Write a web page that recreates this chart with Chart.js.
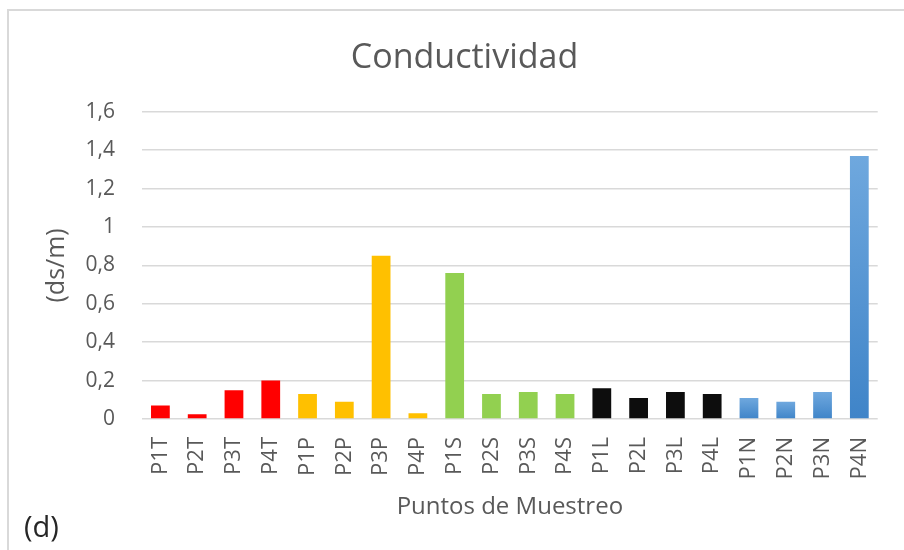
<!DOCTYPE html>
<html>
<head>
<meta charset="utf-8">
<script src="https://cdn.jsdelivr.net/npm/chart.js@4/dist/chart.umd.min.js"></script>
<style>
  html, body { margin: 0; padding: 0; background: #ffffff; }
  #wrap { width: 904px; height: 550px; position: relative; }
</style>
</head>
<body>
<div id="wrap"><canvas id="c" width="904" height="550"></canvas></div>
<script>
// ---- data ----
const categories = ['P1T','P2T','P3T','P4T','P1P','P2P','P3P','P4P','P1S','P2S','P3S','P4S','P1L','P2L','P3L','P4L','P1N','P2N','P3N','P4N'];
const conductividad = [0.07, 0.025, 0.15, 0.20, 0.13, 0.09, 0.85, 0.03, 0.76, 0.13, 0.14, 0.13, 0.16, 0.11, 0.14, 0.13, 0.11, 0.09, 0.14, 1.37];
const yTickLabels = ['0','0,2','0,4','0,6','0,8','1','1,2','1,4','1,6'];
const chartTitle = 'Conductividad';
const yTitle = '(ds/m)';
const xTitle = 'Puntos de Muestreo';
const panelLabel = '(d)';

// ---- styles ----
const groupColors = { T: '#ff0000', P: '#ffc000', S: '#92d050', L: '#0d0d0d' };
const FONT = '"Open Sans", Lato, "DejaVu Sans", sans-serif';
const TEXT = '#595959';

function barColor(ctx) {
  const label = categories[ctx.dataIndex] || '';
  const g = label.charAt(label.length - 1);
  if (groupColors[g]) return groupColors[g];
  const chart = ctx.chart;
  const area = chart.chartArea;
  if (!area) return '#5b9bd5';
  const y = chart.scales.y;
  const top = y.getPixelForValue(ctx.raw);
  const bottom = y.getPixelForValue(0);
  if (!(bottom > top)) return '#5b9bd5';
  const grad = chart.ctx.createLinearGradient(0, top, 0, bottom);
  grad.addColorStop(0, '#6fa8de');
  grad.addColorStop(1, '#3f84c8');
  return grad;
}

const framePlugin = {
  id: 'frame',
  beforeDraw(chart) {
    const c = chart.ctx;
    c.save();
    c.fillStyle = '#ffffff';
    c.fillRect(0, 0, chart.width, chart.height);
    c.strokeStyle = '#d9d9d9';
    c.lineWidth = 2;
    c.strokeRect(8, 10, chart.width + 20, chart.height + 20);
    c.restore();
  },
  afterDraw(chart) {
    const c = chart.ctx;
    c.save();
    c.fillStyle = '#262626';
    c.font = '29px ' + FONT;
    c.textAlign = 'left';
    c.textBaseline = 'alphabetic';
    c.fillText(panelLabel, 24, 537);
    c.restore();
  }
};

new Chart(document.getElementById('c'), {
  type: 'bar',
  data: {
    labels: categories,
    datasets: [{
      label: chartTitle,
      data: conductividad,
      backgroundColor: barColor,
      borderWidth: 0,
      barPercentage: 0.51,
      categoryPercentage: 1.0
    }]
  },
  options: {
    responsive: false,
    animation: false,
    devicePixelRatio: 1,
    layout: { padding: { top: 0, right: 11, bottom: 0, left: 36 } },
    plugins: {
      legend: { display: false },
      tooltip: { enabled: false },
      title: {
        display: true,
        text: chartTitle,
        color: TEXT,
        font: { family: FONT, size: 34, weight: 'normal', lineHeight: 1.2 },
        padding: { top: 38, bottom: 33 }
      }
    },
    scales: {
      x: {
        grid: { display: false, drawTicks: false },
        border: { display: false },
        ticks: {
          color: TEXT,
          font: { family: FONT, size: 22 },
          minRotation: 90,
          maxRotation: 90,
          autoSkip: false,
          padding: 18
        },
        title: {
          display: true,
          text: xTitle,
          color: TEXT,
          font: { family: FONT, size: 24, lineHeight: 1.2 },
          padding: { top: 0, bottom: 28 }
        },
        afterFit(scale) { scale.height = 131; }
      },
      y: {
        min: 0,
        max: 1.6,
        grid: { color: '#d9d9d9', lineWidth: 1.5, drawTicks: false },
        border: { display: false },
        ticks: {
          stepSize: 0.2,
          color: TEXT,
          font: { family: FONT, size: 21 },
          padding: 27,
          callback: (v, i) => yTickLabels[i]
        },
        title: {
          display: true,
          text: yTitle,
          color: TEXT,
          font: { family: FONT, size: 25, lineHeight: 1.2 },
          padding: { top: 6, bottom: 0 }
        },
        afterFit(scale) { scale.width = 106; }
      }
    }
  },
  plugins: [framePlugin]
});
</script>
</body>
</html>
